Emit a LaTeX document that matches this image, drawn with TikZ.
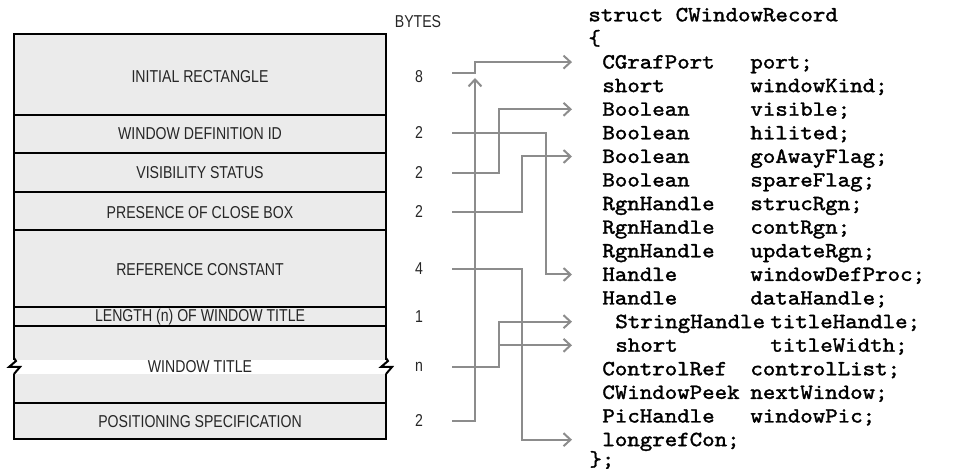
\documentclass[tikz,border=0pt]{standalone}
\usepackage{fontspec}
\usepackage{tikz}
\usetikzlibrary{arrows.meta}
\newfontfamily\fieldfont[FakeStretch=0.82]{Liberation Sans}
\newfontfamily\codefont[FakeStretch=1.1, FakeBold=1.6]{Latin Modern Mono}

\begin{document}
\begin{tikzpicture}[x=0.5pt, y=-0.5pt,
  field/.style={font=\fieldfont\fontsize{8.6}{10}\selectfont, text=black!85},
  num/.style={field, inner sep=0pt, minimum width=33pt},
  code/.style={anchor=base west, inner sep=0pt, text height=6.4pt, text depth=0pt,
    font=\codefont\fontsize{10.8}{12}\selectfont},
  link/.style={draw=black!45, line width=1pt},
  >={Straight Barb[length=3.5pt,width=6.5pt]}]

\useasboundingbox (0,0) rectangle (955,469);

% record layout
\fill[black!8] (14,34) rectangle (386,439);
\draw[line width=1pt] (14,34) rectangle (386,439);
\foreach \y in {115,153,192,230,307,326,403}
  \draw[line width=1pt] (14,\y) -- (386,\y);

% break in the window title
\fill[white] (10,360) rectangle (390,374);
\foreach \x in {14,386}
  \draw[line width=1pt] (\x,358) -- (\x+2,361) -- (\x-5,367) -- (\x+6,367) -- (\x,374);

% field names
\node[field] (initrect) at (200,77) {INITIAL RECTANGLE};
\node[field] (defid) at (200,134) {WINDOW DEFINITION ID};
\node[field] (visib) at (200,173) {VISIBILITY STATUS};
\node[field] (closebox) at (200,213) {PRESENCE OF CLOSE BOX};
\node[field] (refcon) at (200,270) {REFERENCE CONSTANT};
\node[field] (titlelen) at (200,317) {LENGTH (n) OF WINDOW TITLE};
\node[field] (title) at (200,367) {WINDOW TITLE};
\node[field] (posspec) at (200,422) {POSITIONING SPECIFICATION};

% sizes
\node[field] (bytes) at (418,22) {BYTES};
\node[num] (b1) at (419,77) {8};
\node[num] (b2) at (419,133) {2};
\node[num] (b3) at (419,173) {2};
\node[num] (b4) at (419,212) {2};
\node[num] (b5) at (419,269) {4};
\node[num] (b6) at (419,317) {1};
\node[num] (b7) at (419,367) {n};
\node[num] (b8) at (419,421) {2};

% struct declaration
\node[code] (r0) at (588,21.3) {struct CWindowRecord};
\node[code] (r1) at (588,44.9) {\{};
\foreach \i/\ty/\nm in {2/CGrafPort/port;, 3/short/windowKind;, 4/Boolean/visible;,
    5/Boolean/hilited;, 6/Boolean/goAwayFlag;, 7/Boolean/spareFlag;,
    8/RgnHandle/strucRgn;, 9/RgnHandle/contRgn;, 10/RgnHandle/updateRgn;,
    11/Handle/windowDefProc;, 12/Handle/dataHandle;, 15/ControlRef/controlList;,
    16/CWindowPeek/nextWindow;, 17/PicHandle/windowPic;} {
  \node[code] (r\i) at (602,{21.3+23.6*\i}) {\ty};
  \node[code] (m\i) at (750,{21.3+23.6*\i}) {\nm};
}
\node[code] (r13) at (615,328.1) {StringHandle};
\node[code] (m13) at (770,328.1) {titleHandle;};
\node[code] (r14) at (615,351.7) {short};
\node[code] (m14) at (770,351.7) {titleWidth;};
\node[code] (r18) at (602,446.1) {longrefCon;};
\node[code] (r19) at (589,466) {\};};

% connector columns
\coordinate (c1) at (475,0);
\coordinate (c2) at (499,0);
\coordinate (c3) at (522,0);
\coordinate (c4) at (546,0);
\coordinate (tip) at (572,0);

% fields to members
\draw[link,->] ([yshift=2pt]b1.east) -| (c1 |- r2) -- (tip |- r2);
\draw[link,->] (b2.east) -| (c4 |- r11) -- (tip |- r11);
\draw[link,->] (b3.east) -| (c2 |- r4) -- (tip |- r4);
\draw[link,->] (b4.east) -| (c3 |- r6) -- (tip |- r6);
\draw[link,->] (b5.east) -| (c3 |- r18) -- (tip |- r18);
\draw[link,->] (b7.east) -| (c2 |- r13) -- (tip |- r13);
\draw[link,->] (c2 |- r14) -- (tip |- r14);
\draw[link,->] (b8.east) -| ([yshift=-0.5pt]c1 |- b1);

\end{tikzpicture}
\end{document}
